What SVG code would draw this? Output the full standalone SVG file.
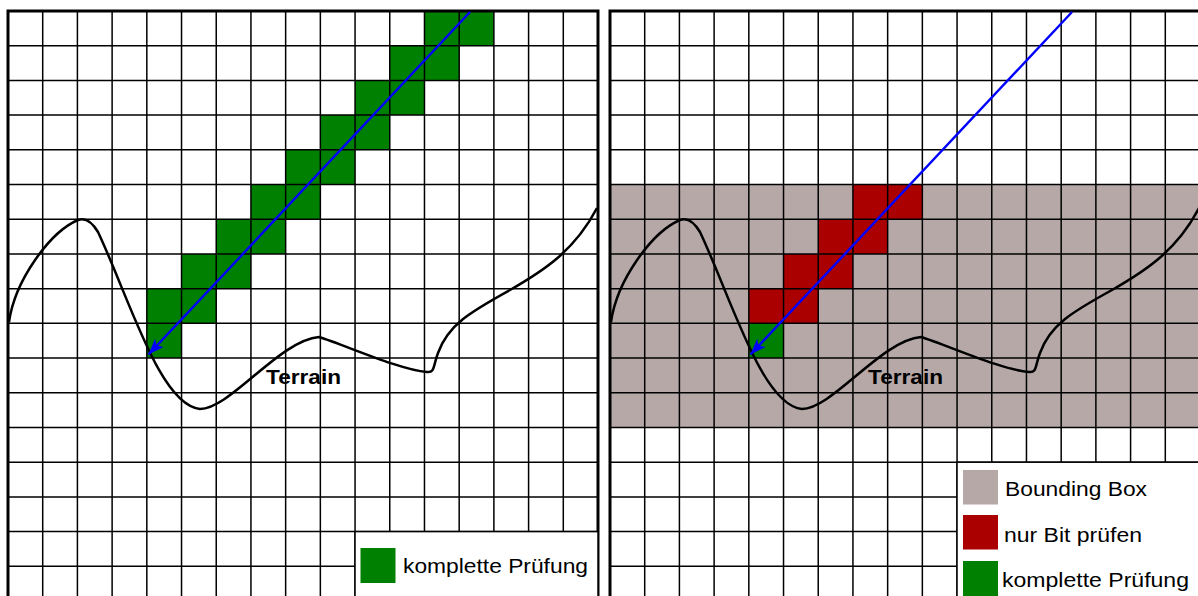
<svg xmlns="http://www.w3.org/2000/svg" width="1198" height="596" viewBox="0 0 1198 596">
  <style>
    .grid { fill: none; stroke: #000; stroke-width: 1.5px; }
    .frame { fill: none; stroke: #000; stroke-width: 3px; }
    .green { fill: #008000; }
    .red { fill: #aa0000; }
    .bbox { fill: #b7a8a8; }
    .terrain { fill: none; stroke: #000; stroke-width: 2.5px; stroke-linejoin: round; }
    .ray { fill: none; stroke: #0000ff; stroke-width: 2.4px; }
    .label { font-family: "Liberation Sans", Arial, Helvetica, sans-serif; font-size: 20px; fill: #000; }
    .bold { font-weight: bold; font-size: 20.5px; }
    .legend { fill: #fff; stroke: #000; stroke-width: 1.5px; }
  </style>
  <defs>
    <marker id="arrowhead" markerUnits="userSpaceOnUse" viewBox="0 0 16 12" refX="16" refY="6" markerWidth="16" markerHeight="12" orient="auto">
      <path d="M0,0 L16,6 L0,12 L4,6 z" fill="#0000ff"/>
    </marker>
    <!-- grid lines in cell units (17 x 17 cells) -->
    <path id="gridlines" vector-effect="non-scaling-stroke" class="grid" d="M1 0V17M2 0V17M3 0V17M4 0V17M5 0V17M6 0V17M7 0V17M8 0V17M9 0V17M10 0V17M11 0V17M12 0V17M13 0V17M14 0V17M15 0V17M16 0V17M0 1H17M0 2H17M0 3H17M0 4H17M0 5H17M0 6H17M0 7H17M0 8H17M0 9H17M0 10H17M0 11H17M0 12H17M0 13H17M0 14H17M0 15H17M0 16H17"/>
    <path id="frameline" vector-effect="non-scaling-stroke" class="frame" d="M0 17V0H17V17"/>
    <!-- terrain profile in left-panel pixel coordinates -->
    <path id="terrainline" class="terrain" d="M9,322 C15,280 50,232 78,220 C86,217 92,222 98,232 C130,300 160,405 200,409 C230,409 280,340 319,337 C345,345 400,370 427,372 C435,373 433,366 438,353 C448,325 470,312 510,290 C545,270 575,250 597,208"/>
    <path id="rayline" class="ray" d="M470,12 L148.5,354.5" marker-end="url(#arrowhead)"/>
  </defs>

  <!-- left panel: full check along the ray -->
  <g id="panel-left">
    <g transform="translate(8,11) scale(34.70588)">
      <path class="green" d="M12 0h2v1h-2zM11 1h2v1h-2zM10 2h2v1h-2zM9 3h2v1h-2zM8 4h2v1h-2zM7 5h2v1h-2zM6 6h2v1h-2zM5 7h2v1h-2zM4 8h2v1h-2zM4 9h1v1h-1z"/>
      <use href="#gridlines"/>
      <use href="#frameline"/>
    </g>
    <use href="#terrainline"/>
    <use href="#rayline"/>
    <text class="label bold" x="266" y="384" textLength="75" lengthAdjust="spacingAndGlyphs">Terrain</text>
  </g>

  <!-- right panel: bounding box pre-check -->
  <g id="panel-right">
    <g transform="translate(610,11) scale(34.70588)">
      <rect class="bbox" x="0" y="5" width="17" height="7"/>
      <path class="red" d="M7 5h2v1h-2zM6 6h2v1h-2zM5 7h2v1h-2zM4 8h2v1h-2z"/>
      <path class="green" d="M4 9h1v1h-1z"/>
      <use href="#gridlines"/>
      <use href="#frameline"/>
    </g>
    <g transform="translate(602,0)">
      <use href="#terrainline"/>
      <use href="#rayline"/>
      <text class="label bold" x="266" y="384" textLength="75" lengthAdjust="spacingAndGlyphs">Terrain</text>
    </g>
  </g>

  <!-- legends -->
  <g id="legend-left">
    <rect class="legend" x="355" y="531.6" width="243" height="70"/>
    <rect class="green" x="360.5" y="548" width="35" height="35"/>
    <text class="label" x="403" y="573" textLength="185" lengthAdjust="spacingAndGlyphs">komplette Prüfung</text>
  </g>
  <g id="legend-right">
    <rect class="legend" x="957" y="462.2" width="245" height="140"/>
    <rect class="bbox" x="963" y="470" width="35" height="34.5"/>
    <text class="label" x="1005" y="496" textLength="142" lengthAdjust="spacingAndGlyphs">Bounding Box</text>
    <rect class="red" x="963" y="515" width="35" height="34.5"/>
    <text class="label" x="1004" y="541.5" textLength="138" lengthAdjust="spacingAndGlyphs">nur Bit prüfen</text>
    <rect class="green" x="963" y="561" width="35" height="35"/>
    <text class="label" x="1002" y="587" textLength="187" lengthAdjust="spacingAndGlyphs">komplette Prüfung</text>
  </g>
</svg>
